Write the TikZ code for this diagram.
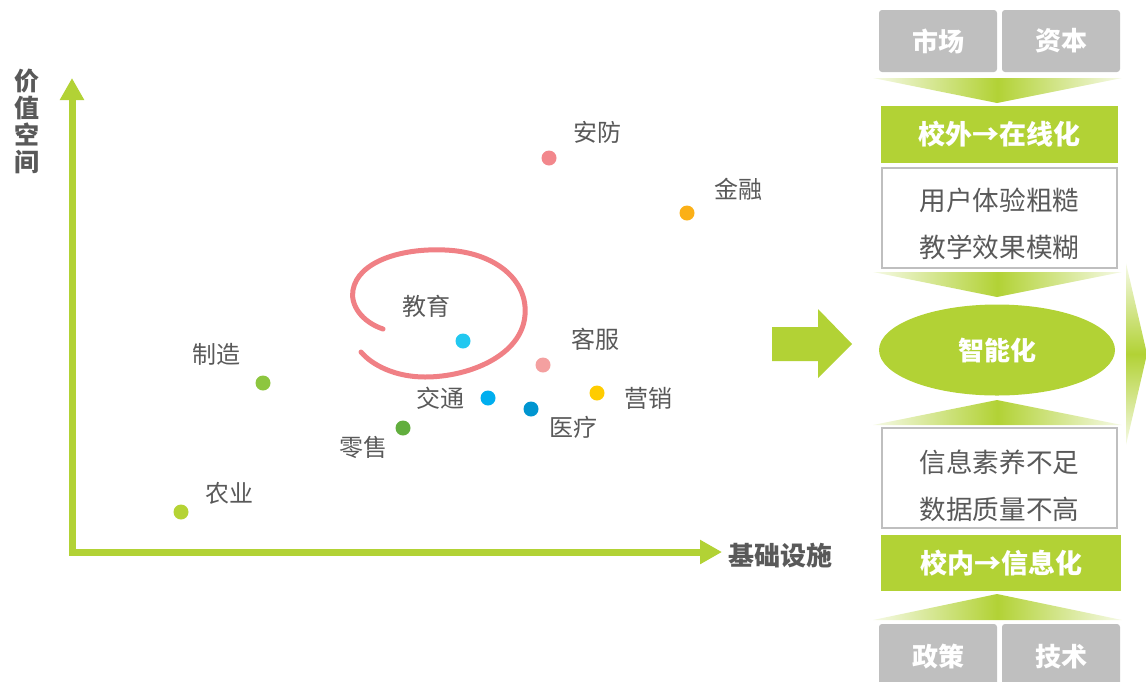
\documentclass[tikz,border=0pt]{standalone}
\usepackage{fontspec}
\setmainfont{Noto Sans CJK SC}
\usepackage{tikz}
\usetikzlibrary{shapes,arrows.meta}
\definecolor{limeGreen}{RGB}{178,210,53}
\definecolor{boxGray}{RGB}{191,191,191}
\definecolor{textGray}{RGB}{89,89,89}
\definecolor{loopPink}{RGB}{240,128,133}
\definecolor{dotRose}{RGB}{242,135,140}
\definecolor{dotOrange}{RGB}{251,176,23}
\definecolor{dotCyan}{RGB}{34,200,240}
\definecolor{dotSalmon}{RGB}{244,160,160}
\definecolor{dotYellow}{RGB}{255,204,0}
\definecolor{dotSky}{RGB}{0,174,239}
\definecolor{dotBlue}{RGB}{0,149,208}
\definecolor{dotGreen}{RGB}{141,198,63}
\definecolor{dotLeaf}{RGB}{98,174,62}
\definecolor{dotLime}{RGB}{181,211,52}

\begin{document}
\begin{tikzpicture}[x=0.5pt, y=-0.5pt]%
  \tikzset{axis line/.style={draw,limeGreen,line width=3.5pt,{Triangle[length=11pt,width=11.5pt]}-{Triangle[length=11pt,width=11.5pt]}}}
  \tikzset{dot/.style={circle,draw=none,minimum size=7.5pt}}
  \tikzset{graybox/.style={fill=boxGray,rounded corners=1.5pt,minimum width=59pt,minimum height=31pt,text=white,font=\bfseries\fontsize{13}{15}\selectfont}}
  \tikzset{greenbox/.style={fill=limeGreen,minimum width=118.5pt,minimum height=28.5pt,text=white,font=\bfseries\fontsize{13.5}{16}\selectfont}}
  \tikzset{whitebox/.style={draw=boxGray,line width=1pt,fill=white,minimum width=117.5pt,minimum height=50pt,align=center,font=\fontsize{13.3}{23.5}\selectfont}}
  \tikzset{chevron/.style={left color=limeGreen!12,right color=limeGreen!12,middle color=limeGreen}}
  \tikzstyle{every node}=[text=textGray, inner sep=0pt, outer sep=0pt, font=\fontsize{12}{14}\selectfont]

  \useasboundingbox (0,0) rectangle (1146,681);

  % axes
  \coordinate (ytip) at (72,78);
  \coordinate (xtip) at (722,552);
  \path[axis line] (ytip) |- (xtip);
  \node[align=center, font=\bfseries\fontsize{12.5}{13.5}\selectfont] at (27,121) (yname) {价\\值\\空\\间};
  \node[anchor=west, font=\bfseries\fontsize{13}{15}\selectfont] at (728,556) (xname) {基础设施};

  % sectors
  \node[dot, fill=dotRose] at (549,158) (anfang) {};
  \node at (597,132) {安防};
  \node[dot, fill=dotOrange] at (687,213) (jinrong) {};
  \node at (738,189) {金融};
  \node[dot, fill=dotCyan] at (463,341) (jiaoyu) {};
  \node at (426,306) {教育};
  \node[dot, fill=dotSalmon] at (543,365) (kefu) {};
  \node at (595,339) {客服};
  \node[dot, fill=dotYellow] at (597,393) (yingxiao) {};
  \node at (648,398) {营销};
  \node[dot, fill=dotSky] at (488,398) (jiaotong) {};
  \node at (440,398) {交通};
  \node[dot, fill=dotBlue] at (531,409) (yiliao) {};
  \node at (573,427) {医疗};
  \node[dot, fill=dotGreen] at (263,383) (zhizao) {};
  \node at (216,354) {制造};
  \node[dot, fill=dotLeaf] at (403,428) (lingshou) {};
  \node at (363,447) {零售};
  \node[dot, fill=dotLime] at (181,512) (nongye) {};
  \node at (229,493) {农业};

  % hand drawn loop round education
  \draw[loopPink, line width=2.5pt, line cap=round] (383,329) .. controls (362,322) and (350,305) .. (353,290)
    .. controls (358,262) and (400,248) .. (445,250) .. controls (495,252) and (528,280) .. (525,315)
    .. controls (522,355) and (470,377) .. (425,377) .. controls (395,377) and (372,365) .. (361,352);

  % block arrow
  \fill[limeGreen] (772,327) -- (818,327) -- (818,309) -- (852,344) -- (818,378) -- (818,361) -- (772,361) -- cycle;

  % right column
  \node[graybox] at (938,41) (market) {市场};
  \node[graybox] at (1061,41) (capital) {资本};
  \shade[chevron] (873,78) -- (1122,78) -- (997,103) -- cycle;
  \node[greenbox] at (999.5,134.5) (online) {校外→在线化};
  \node[whitebox] at (999.5,217.5) (roughA) {\rule{0pt}{17.5pt}用户体验粗糙\\教学效果模糊};
  \shade[chevron] (873,272) -- (1122,272) -- (997,297) -- cycle;
  \node[ellipse, fill=limeGreen, minimum width=118pt, minimum height=45.5pt, text=white, font=\bfseries\fontsize{13}{15}\selectfont] at (997,350) (smart) {智能化};
  \shade[chevron] (873,425) -- (1122,425) -- (997,400) -- cycle;
  \node[whitebox] at (999.5,478) (roughB) {\rule{0pt}{19.5pt}信息素养不足\\数据质量不高};
  \node[greenbox, minimum width=120pt, minimum height=28pt] at (1001,563) (infor) {校内→信息化};
  \shade[chevron] (873,620) -- (1122,620) -- (997,594) -- cycle;
  \node[graybox, minimum height=33pt] at (938,657) (policy) {政策};
  \node[graybox, minimum height=33pt] at (1061,657) (tech) {技术};
  \shade[top color=limeGreen!12, bottom color=limeGreen!12, middle color=limeGreen] (1126,263) -- (1147,354) -- (1126,445) -- cycle;

\end{tikzpicture}
\end{document}
